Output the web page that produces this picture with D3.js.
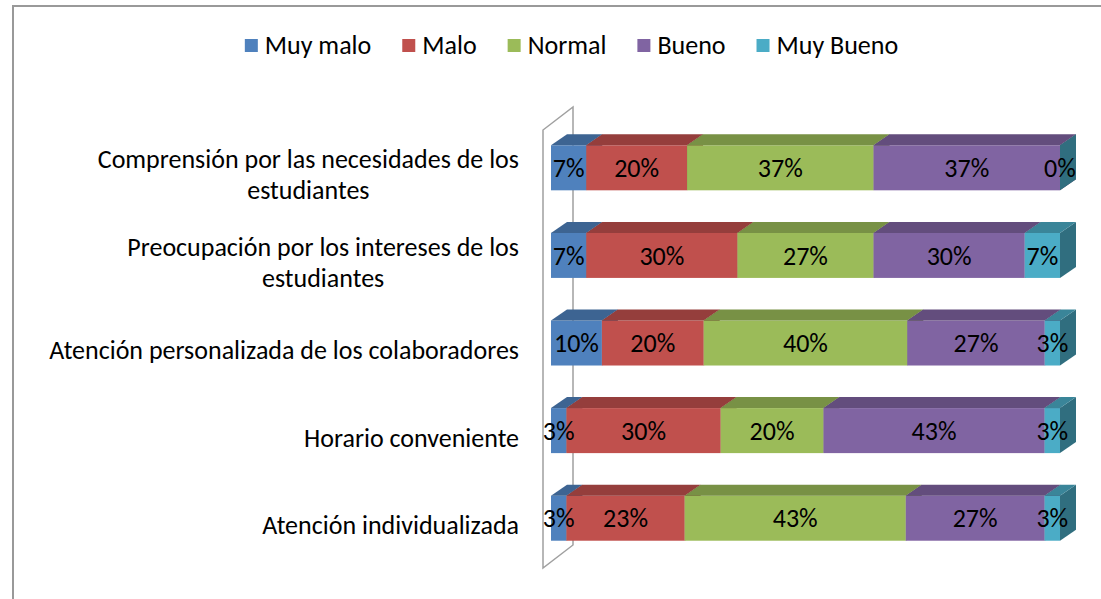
<!DOCTYPE html>
<html lang="es">
<head>
<meta charset="UTF-8">
<title>Evaluación de la atención</title>
<style>
    body { margin: 0; padding: 0; background: #fff; overflow: hidden; }
    text { font-family: Calibri, Carlito, Lato, sans-serif; fill: #000; }
</style>
</head>
<body>
<div id="chart"></div>
<script src="https://d3js.org/d3.v7.min.js"></script>
<script>
    // categories, top to bottom (\n = line break in the axis label)
    const categories = [
        "Comprensión por las necesidades de los\nestudiantes",
        "Preocupación por los intereses de los\nestudiantes",
        "Atención personalizada de los colaboradores",
        "Horario conveniente",
        "Atención individualizada"
    ];
    const seriesNames = ["Muy malo", "Malo", "Normal", "Bueno", "Muy Bueno"];
    const colors = ["#4F81BD", "#C0504D", "#9BBB59", "#8064A2", "#4BACC6"];

    // percentages as printed on the bars
    const muyMalo  = [7, 7, 10, 3, 3];
    const malo     = [20, 30, 20, 30, 23];
    const normal   = [37, 27, 40, 20, 43];
    const bueno    = [37, 30, 27, 43, 27];
    const muyBueno = [0, 7, 3, 3, 3];
    const seriesValues = [muyMalo, malo, normal, bueno, muyBueno];

    const width = 1101, height = 599;
    const fontSize = 26;

    const rows = categories.map((c, i) => {
        const row = { cat: c };
        seriesNames.forEach((s, j) => row[s] = seriesValues[j][i]);
        return row;
    });
    const stacked = d3.stack().keys(seriesNames).offset(d3.stackOffsetExpand)(rows);

    const svg = d3.select('#chart').append('svg')
        .attr('width', width)
        .attr('height', height);

    // chart border (runs off the right/bottom of the picture)
    svg.append('rect')
        .attr('x', 13).attr('y', 6)
        .attr('width', width + 20).attr('height', height + 20)
        .attr('fill', '#fff')
        .attr('stroke', '#999')
        .attr('stroke-width', 2);

    const x = d3.scaleLinear().domain([0, 1]).range([543, 1052]);
    const y = d3.scaleBand().domain(categories).range([130, 568])
        .paddingInner(0.486).paddingOuter(0.243);

    // 3d projection: wall depth and bar position inside that depth
    const wallDx = 30, wallDy = -23;
    const barFx = 8, barFy = -6;   // front face offset
    const barDx = 16, barDy = -11; // bar depth

    // left wall
    const [wy0, wy1] = y.range();
    svg.append('path')
        .attr('d', `M${x(0)},${wy1} L${x(0)},${wy0} L${x(0) + wallDx},${wy0 + wallDy} L${x(0) + wallDx},${wy1 + wallDy} Z`)
        .attr('fill', 'none')
        .attr('stroke', '#a0a0a0')
        .attr('stroke-width', 1.5);

    // segments drawn left to right, so each one hides the side face of the one before
    const bars = svg.append('g');
    stacked.forEach((layer, j) => {
        const base = d3.color(colors[j]);
        const topCol = base.darker(0.72).formatHex();
        const sideCol = base.darker(1.25).formatHex();
        layer.forEach(d => {
            const x0 = x(d[0]) + barFx, x1 = x(d[1]) + barFx;
            const yT = y(d.data.cat) + barFy, yB = yT + y.bandwidth();
            const g = bars.append('g');
            g.append('path')
                .attr('d', `M${x1},${yT} L${x1 + barDx},${yT + barDy} L${x1 + barDx},${yB + barDy} L${x1},${yB} Z`)
                .attr('fill', sideCol);
            g.append('rect')
                .attr('x', x0).attr('y', yT)
                .attr('width', Math.max(0, x1 - x0)).attr('height', yB - yT)
                .attr('fill', colors[j]);
            g.append('path')
                .attr('d', `M${x0},${yT} L${x0 + barDx},${yT + barDy} L${x1 + barDx},${yT + barDy} L${x1},${yT} Z`)
                .attr('fill', topCol);
        });
    });

    // data labels
    stacked.forEach((layer, j) => {
        svg.append('g').selectAll('text')
            .data(layer)
            .enter().append('text')
            .attr('x', d => (x(d[0]) + x(d[1])) / 2 + barFx)
            .attr('y', d => y(d.data.cat) + barFy + y.bandwidth() / 2)
            .attr('dy', '0.35em')
            .attr('text-anchor', 'middle')
            .attr('font-size', fontSize)
            .text((d, i) => seriesValues[j][i] + '%');
    });

    // category labels, right aligned block, lines centred on each other
    const lineH = 31;
    categories.forEach(c => {
        const lines = c.split('\n');
        const cy = y(c) + y.bandwidth() / 2 + 1;
        const g = svg.append('g');
        const texts = lines.map((l, i) => g.append('text')
            .attr('font-size', fontSize)
            .attr('text-anchor', 'middle')
            .attr('y', cy + (i - (lines.length - 1) / 2) * lineH)
            .attr('dy', '0.35em')
            .text(l));
        const maxW = d3.max(texts, t => t.node().getComputedTextLength());
        texts.forEach(t => t.attr('x', 519 - maxW / 2));
    });

    // legend, centred above the plot
    const legend = svg.append('g');
    let lx = 0;
    seriesNames.forEach((s, j) => {
        const item = legend.append('g').attr('transform', `translate(${lx},0)`);
        item.append('rect')
            .attr('x', 0).attr('y', 39)
            .attr('width', 13).attr('height', 13)
            .attr('fill', colors[j]);
        const t = item.append('text')
            .attr('x', 20).attr('y', 45)
            .attr('dy', '0.35em')
            .attr('font-size', fontSize)
            .text(s);
        lx += 20 + t.node().getComputedTextLength() + 31;
    });
    const legendW = lx - 31;
    legend.attr('transform', `translate(${571.5 - legendW / 2},0)`);
</script>
</body>
</html>
